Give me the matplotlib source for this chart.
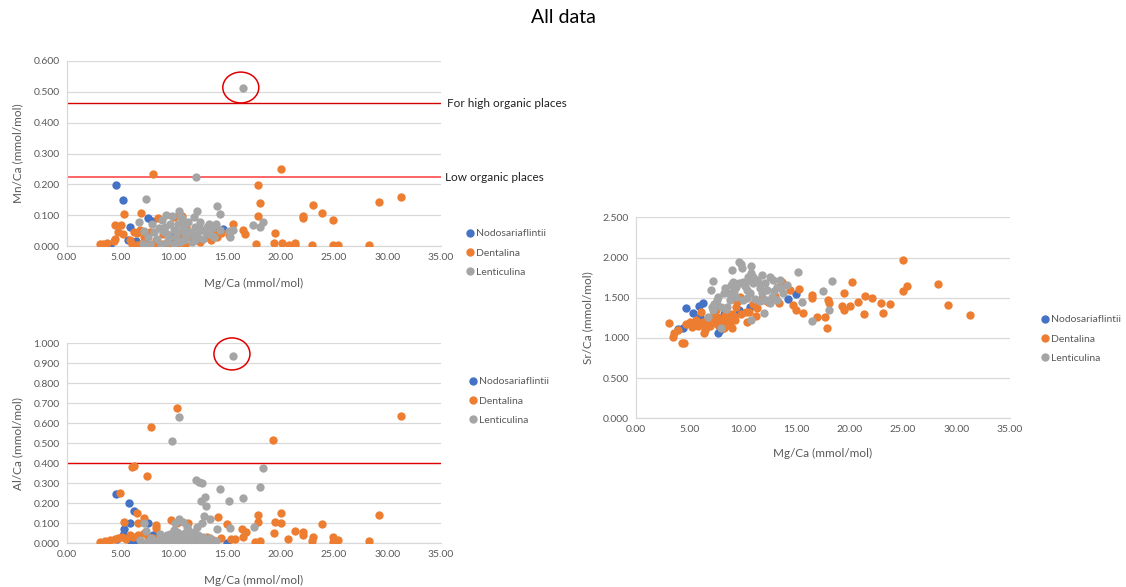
"""
Excel-style scatter panels: Mn/Ca, Al/Ca and Sr/Ca against Mg/Ca for three
foraminifera genera, with contamination thresholds and circled outliers.
"""

import matplotlib
import matplotlib.pyplot as plt
from matplotlib.lines import Line2D
from matplotlib.patches import Ellipse
from matplotlib.ticker import FormatStrFormatter, MultipleLocator

matplotlib.use("Agg")

plt.rcParams["font.family"] = ["Lato", "DejaVu Sans"]

SPECIES = ["Nodosariaflintii", "Dentalina", "Lenticulina"]
COLORS = ["#4472C4", "#ED7D31", "#A5A5A5"]

# ---- Mn/Ca panel -----------------------------------------------------------
mn_nodo_mg = [4.64, 5.3, 5.92, 5.7, 7.64, 8.0, 4.1, 6.5, 9.8, 10.1, 10.6, 11.6, 14.2, 14.6]
mn_nodo = [0.199, 0.150, 0.062, 0.019, 0.090, 0.081, 0.003, 0.017, 0.030, 0.015,
           0.014, 0.030, 0.050, 0.056]

mn_dent_mg = [8.1, 20.05, 17.93, 18.1, 17.9, 5.39, 4.52, 5.1, 6.93, 8.57, 10.0, 10.8,
              19.5, 19.4, 20.2, 20.8, 21.4, 21.4, 22.08, 22.08, 23.1, 23.86, 24.92,
              22.96, 24.95, 25.4, 28.3, 29.2, 31.26, 17.7, 16.5, 16.7, 15.6, 15.2,
              14.4, 3.1, 3.4, 3.8, 4.4, 4.5, 4.83, 5.3, 5.9, 6.1, 6.3, 6.6, 6.6, 6.9,
              7.0, 7.2, 7.35, 7.5, 7.8, 8.0, 8.4, 8.4, 8.9, 9.0, 9.5, 9.9, 10.6, 10.8,
              11.1, 11.2, 11.5, 12.2, 12.5, 13.1, 13.5, 13.8, 14.1]
mn_dent = [0.234, 0.249, 0.197, 0.138, 0.098, 0.103, 0.068, 0.069, 0.108, 0.090,
           0.095, 0.096, 0.041, 0.011, 0.011, 0.004, 0.011, 0.004, 0.098, 0.090,
           0.132, 0.107, 0.083, 0.004, 0.004, 0.004, 0.004, 0.142, 0.160, 0.007,
           0.053, 0.040, 0.073, 0.035, 0.042, 0.007, 0.007, 0.011, 0.015, 0.022,
           0.046, 0.040, 0.018, 0.005, 0.044, 0.042, 0.002, 0.053, 0.005, 0.030,
           0.002, 0.013, 0.046, 0.004, 0.018, 0.007, 0.007, 0.040, 0.004, 0.007,
           0.002, 0.035, 0.004, 0.063, 0.030, 0.018, 0.012, 0.030, 0.018, 0.042,
           0.030]

mn_lent_mg = [16.5, 12.07, 7.4, 14.04, 14.35, 12.17, 10.54, 9.84, 10.6, 17.46, 18.4,
              18.1, 15.2, 6.8, 7.2, 7.1, 8.0, 8.2, 8.5, 8.9, 9.2, 9.4, 9.4, 9.7, 10.0,
              10.2, 10.4, 10.6, 11.0, 11.1, 11.2, 11.4, 11.5, 11.7, 12.0, 12.2, 12.5,
              12.7, 12.8, 13.1, 13.3, 13.4, 13.8, 14.0, 14.35, 15.3, 15.6, 9.3, 10.8,
              11.9, 7.8, 8.8, 10.0, 9.0, 9.6, 10.3, 10.9, 11.3, 11.8, 12.4, 13.0,
              13.6, 12.0, 11.0, 8.6, 7.6]
mn_lent = [0.513, 0.225, 0.152, 0.131, 0.103, 0.115, 0.114, 0.098, 0.098, 0.068,
           0.079, 0.063, 0.049, 0.079, 0.050, 0.007, 0.073, 0.045, 0.023, 0.084,
           0.063, 0.040, 0.013, 0.073, 0.051, 0.030, 0.073, 0.013, 0.045, 0.073,
           0.030, 0.079, 0.045, 0.013, 0.063, 0.035, 0.079, 0.051, 0.023, 0.063,
           0.073, 0.040, 0.030, 0.073, 0.051, 0.030, 0.051, 0.100, 0.090, 0.095,
           0.007, 0.002, 0.007, 0.050, 0.030, 0.045, 0.060, 0.050, 0.040, 0.060,
           0.045, 0.060, 0.020, 0.020, 0.060, 0.030]

MN_HIGH_LIMIT = 0.463
MN_LOW_LIMIT = 0.223
MN_OUTLIER = (16.3, 0.514)

# ---- Al/Ca panel -----------------------------------------------------------
al_nodo_mg = [4.61, 5.86, 6.3, 5.92, 7.64, 5.36, 5.3, 6.0, 14.97, 6.55, 5.6, 7.5,
              4.7, 8.1, 12.5, 9.5]
al_nodo = [0.246, 0.200, 0.163, 0.103, 0.103, 0.070, 0.042, 0.005, 0.003, 0.003,
           0.025, 0.002, 0.020, 0.042, 0.008, 0.010]

al_dent_mg = [10.36, 7.9, 19.3, 6.08, 6.3, 7.5, 4.99, 14.2, 17.9, 17.9, 20.1, 19.5,
              20.06, 19.4, 14.97, 16.4, 16.8, 16.5, 21.4, 22.08, 22.08, 20.7, 23.1,
              22.96, 17.6, 18.1, 15.4, 15.8, 5.4, 6.6, 7.2, 6.7, 8.4, 8.4, 9.8, 10.3,
              11.4, 31.25, 29.19, 23.86, 24.95, 24.95, 25.4, 28.3, 3.1, 3.6, 4.1, 4.5,
              4.8, 5.2, 5.6, 5.9, 6.2, 6.7, 7.2, 7.6, 8.1, 8.7, 9.3, 9.9, 10.6, 11.2,
              11.9, 12.5, 13.1, 13.7, 14.4]
al_dent = [0.678, 0.583, 0.515, 0.380, 0.387, 0.337, 0.250, 0.133, 0.142, 0.108,
           0.153, 0.108, 0.103, 0.050, 0.095, 0.070, 0.058, 0.033, 0.063, 0.058,
           0.042, 0.022, 0.030, 0.013, 0.008, 0.013, 0.020, 0.022, 0.108, 0.153,
           0.128, 0.103, 0.092, 0.075, 0.117, 0.103, 0.100, 0.638, 0.140, 0.097,
           0.033, 0.008, 0.017, 0.013, 0.007, 0.013, 0.017, 0.020, 0.027, 0.030,
           0.022, 0.042, 0.030, 0.042, 0.050, 0.033, 0.025, 0.017, 0.020, 0.008,
           0.017, 0.025, 0.013, 0.020, 0.030, 0.017, 0.025]

al_lent_mg = [15.6, 10.5, 9.9, 18.4, 18.1, 12.1, 12.4, 12.66, 14.35, 15.2, 16.5,
              12.57, 12.98, 13.0, 12.9, 12.7, 13.4, 14.04, 15.28, 17.5, 10.5, 10.9,
              7.2, 7.4, 12.2, 6.9, 7.5, 7.9, 8.4, 8.9, 9.4, 9.7, 10.0, 10.3, 10.5,
              10.8, 11.1, 11.3, 11.6, 11.9, 12.2, 12.5, 12.8, 13.4, 13.9, 9.4, 10.0,
              10.6, 11.4, 11.9, 8.2, 9.0, 10.2, 11.0, 12.0, 13.0, 14.0, 9.2, 9.8,
              10.4, 11.0, 11.7, 12.3, 13.2, 8.7, 10.1, 11.3]
al_lent = [0.938, 0.632, 0.513, 0.375, 0.282, 0.317, 0.308, 0.300, 0.273, 0.213,
           0.228, 0.213, 0.233, 0.188, 0.138, 0.103, 0.122, 0.070, 0.075, 0.080,
           0.120, 0.108, 0.103, 0.062, 0.080, 0.017, 0.008, 0.025, 0.013, 0.033,
           0.017, 0.047, 0.008, 0.058, 0.033, 0.017, 0.050, 0.025, 0.008, 0.042,
           0.020, 0.008, 0.033, 0.025, 0.013, 0.042, 0.067, 0.047, 0.067, 0.058,
           0.005, 0.005, 0.040, 0.035, 0.045, 0.015, 0.010, 0.030, 0.025, 0.020,
           0.010, 0.030, 0.040, 0.010, 0.045, 0.100, 0.080]

AL_LIMIT = 0.400
AL_OUTLIER = (15.47, 0.947)

# ---- Sr/Ca panel -----------------------------------------------------------
sr_nodo_mg = [4.65, 5.3, 5.92, 6.3, 7.5, 8.23, 7.64, 3.9, 4.4, 6.3, 7.9, 9.6, 9.7,
              10.7, 14.25, 15.0, 8.6, 6.8, 6.0]
sr_nodo = [1.368, 1.313, 1.400, 1.430, 1.418, 1.298, 1.066, 1.110, 1.120, 1.180,
           1.100, 1.347, 1.320, 1.389, 1.490, 1.545, 1.180, 1.220, 1.264]

sr_dent_mg = [3.12, 3.5, 3.55, 4.27, 4.5, 3.96, 4.68, 5.05, 5.5, 6.0, 6.45, 6.36,
              6.6, 6.05, 7.5, 7.2, 7.7, 8.2, 8.5, 8.6, 8.5, 8.95, 9.2, 9.4, 9.5, 9.7,
              10.3, 10.35, 11.2, 11.3, 12.4, 13.4, 13.7, 14.4, 14.7, 15.0, 15.3,
              15.65, 16.5, 16.5, 16.9, 17.65, 17.87, 18.0, 18.09, 20.18, 19.46, 19.3,
              19.46, 20.02, 20.74, 21.42, 21.36, 22.1, 22.92, 23.1, 23.82, 25.0,
              24.95, 25.38, 28.28, 29.19, 31.27, 5.8, 7.0, 7.9, 9.0, 11.8, 12.8, 6.9,
              7.3, 6.3, 6.7, 7.1, 7.6, 8.0, 8.3, 8.8, 9.3, 9.8, 10.6, 11.0, 12.0,
              13.0, 5.2, 5.6]
sr_dent = [1.180, 1.016, 1.066, 0.933, 0.933, 1.100, 1.170, 1.200, 1.160, 1.180,
           1.100, 1.066, 1.140, 1.318, 1.347, 1.220, 1.160, 1.120, 1.160, 1.220,
           1.260, 1.120, 1.265, 1.380, 1.450, 1.510, 1.327, 1.200, 1.277, 1.368,
           1.450, 1.430, 1.700, 1.596, 1.410, 1.347, 1.610, 1.306, 1.534, 1.500,
           1.265, 1.264, 1.119, 1.471, 1.430, 1.695, 1.555, 1.400, 1.347, 1.400,
           1.443, 1.521, 1.293, 1.496, 1.434, 1.306, 1.425, 1.965, 1.580, 1.649,
           1.670, 1.409, 1.289, 1.150, 1.250, 1.200, 1.300, 1.500, 1.480, 1.150,
           1.300, 1.200, 1.240, 1.180, 1.260, 1.220, 1.280, 1.180, 1.220, 1.300,
           1.320, 1.420, 1.470, 1.520, 1.140, 1.220]

sr_lent_mg = [9.63, 9.8, 9.95, 8.95, 10.73, 10.73, 7.17, 6.98, 15.2, 18.37, 17.5,
              18.1, 16.5, 15.5, 6.7, 8.0, 8.0, 8.5, 7.1, 7.2, 10.8, 12.0, 8.6, 9.1,
              9.4, 10.0, 10.35, 11.0, 11.3, 11.6, 12.1, 12.5, 12.85, 13.2, 13.5, 13.8,
              14.1, 9.4, 10.0, 10.7, 11.1, 11.75, 12.2, 12.7, 13.2, 8.8, 8.2, 7.7,
              7.55, 11.0, 11.75, 10.5, 8.3, 8.9, 9.2, 9.6, 10.2, 10.6, 11.4, 12.3,
              12.9, 13.6, 9.0, 10.4, 11.6, 12.5, 7.3, 8.4]
sr_lent = [1.940, 1.915, 1.866, 1.845, 1.900, 1.810, 1.710, 1.590, 1.824, 1.708,
           1.584, 1.347, 1.215, 1.443, 1.264, 1.120, 1.390, 1.390, 1.390, 1.347,
           1.223, 1.306, 1.555, 1.700, 1.638, 1.700, 1.596, 1.680, 1.720, 1.617,
           1.680, 1.762, 1.720, 1.638, 1.720, 1.555, 1.658, 1.513, 1.470, 1.555,
           1.490, 1.555, 1.470, 1.513, 1.470, 1.470, 1.555, 1.513, 1.470, 1.760,
           1.780, 1.760, 1.620, 1.660, 1.580, 1.680, 1.640, 1.720, 1.700, 1.600,
           1.580, 1.620, 1.520, 1.500, 1.460, 1.440, 1.420, 1.360]

GRID = "#D9D9D9"
TEXT = "#595959"
MARKER_SIZE = 36


def style_axes(ax, ymax, ystep, ylabel):
    ax.set_xlim(0, 35)
    ax.set_ylim(0, ymax)
    ax.xaxis.set_major_locator(MultipleLocator(5))
    ax.yaxis.set_major_locator(MultipleLocator(ystep))
    ax.xaxis.set_major_formatter(FormatStrFormatter("%.2f"))
    ax.yaxis.set_major_formatter(FormatStrFormatter("%.3f"))
    ax.tick_params(length=0, labelsize=7.5, colors=TEXT, pad=5)
    ax.grid(axis="y", color=GRID, linewidth=0.9)
    ax.set_axisbelow(True)
    for side in ("top", "right"):
        ax.spines[side].set_visible(False)
    for side in ("left", "bottom"):
        ax.spines[side].set_color(GRID)
        ax.spines[side].set_linewidth(0.9)
    ax.set_xlabel("Mg/Ca (mmol/mol)", fontsize=8.5, color=TEXT)
    ax.set_ylabel(ylabel, fontsize=8.5, color=TEXT)


def add_legend(ax, fig, x, y):
    handles = [
        Line2D([], [], marker="o", linestyle="none", markersize=5,
               markerfacecolor=c, markeredgecolor=c)
        for c in COLORS
    ]
    leg = ax.legend(handles, SPECIES, loc="center left", bbox_to_anchor=(x, y),
                    bbox_transform=fig.transFigure, frameon=False, fontsize=7.5,
                    handlelength=0.8, handletextpad=0.2, labelspacing=0.95,
                    borderpad=0, borderaxespad=0)
    for t in leg.get_texts():
        t.set_color(TEXT)


def scatter_species(ax, series):
    for (mg, val), color in zip(series, COLORS):
        ax.scatter(mg, val, s=MARKER_SIZE, color=color, linewidths=0, zorder=3)


fig = plt.figure(figsize=(11.26, 5.87), dpi=100)
fig.text(0.5, 0.971, "All data", ha="center", va="center", fontsize=14)

# Mn/Ca
ax_mn = fig.add_axes([0.0592, 0.5809, 0.3321, 0.3152])
scatter_species(ax_mn, [(mn_nodo_mg, mn_nodo), (mn_dent_mg, mn_dent),
                        (mn_lent_mg, mn_lent)])
ax_mn.axhline(MN_HIGH_LIMIT, color="#D40000", linewidth=1.0, zorder=2)
ax_mn.axhline(MN_LOW_LIMIT, color="#FF3B3B", linewidth=1.1, zorder=2)
ax_mn.text(1.018, MN_HIGH_LIMIT, "For high organic places", transform=ax_mn.get_yaxis_transform(),
           va="center", ha="left", fontsize=8.5, color="#222222")
ax_mn.text(1.012, MN_LOW_LIMIT, "Low organic places", transform=ax_mn.get_yaxis_transform(),
           va="center", ha="left", fontsize=8.5, color="#222222")
ax_mn.add_patch(Ellipse(MN_OUTLIER, width=3.37, height=0.10, fill=False,
                        edgecolor="#E00000", linewidth=1.1, clip_on=False, zorder=4))
style_axes(ax_mn, 0.6, 0.1, "Mn/Ca (mmol/mol)")
ax_mn.yaxis.set_label_coords(-0.115, 0.5)
ax_mn.xaxis.set_label_coords(0.5, -0.17)
add_legend(ax_mn, fig, 0.4139, 0.569)

# Al/Ca
ax_al = fig.add_axes([0.0592, 0.0744, 0.3321, 0.3407])
scatter_species(ax_al, [(al_nodo_mg, al_nodo), (al_dent_mg, al_dent),
                        (al_lent_mg, al_lent)])
ax_al.axhline(AL_LIMIT, color="#E00000", linewidth=1.0, zorder=2)
ax_al.add_patch(Ellipse(AL_OUTLIER, width=3.37, height=0.16, fill=False,
                        edgecolor="#E00000", linewidth=1.1, clip_on=False, zorder=4))
style_axes(ax_al, 1.0, 0.1, "Al/Ca (mmol/mol)")
ax_al.yaxis.set_label_coords(-0.115, 0.5)
ax_al.xaxis.set_label_coords(0.5, -0.16)
add_legend(ax_al, fig, 0.4165, 0.3169)

# Sr/Ca
ax_sr = fig.add_axes([0.5648, 0.2874, 0.3321, 0.3424])
scatter_species(ax_sr, [(sr_nodo_mg, sr_nodo), (sr_dent_mg, sr_dent),
                        (sr_lent_mg, sr_lent)])
style_axes(ax_sr, 2.5, 0.5, "Sr/Ca (mmol/mol)")
ax_sr.yaxis.set_label_coords(-0.115, 0.5)
ax_sr.xaxis.set_label_coords(0.5, -0.15)
add_legend(ax_sr, fig, 0.9245, 0.4225)

fig.savefig("out.png", dpi=100)
plt.close(fig)
